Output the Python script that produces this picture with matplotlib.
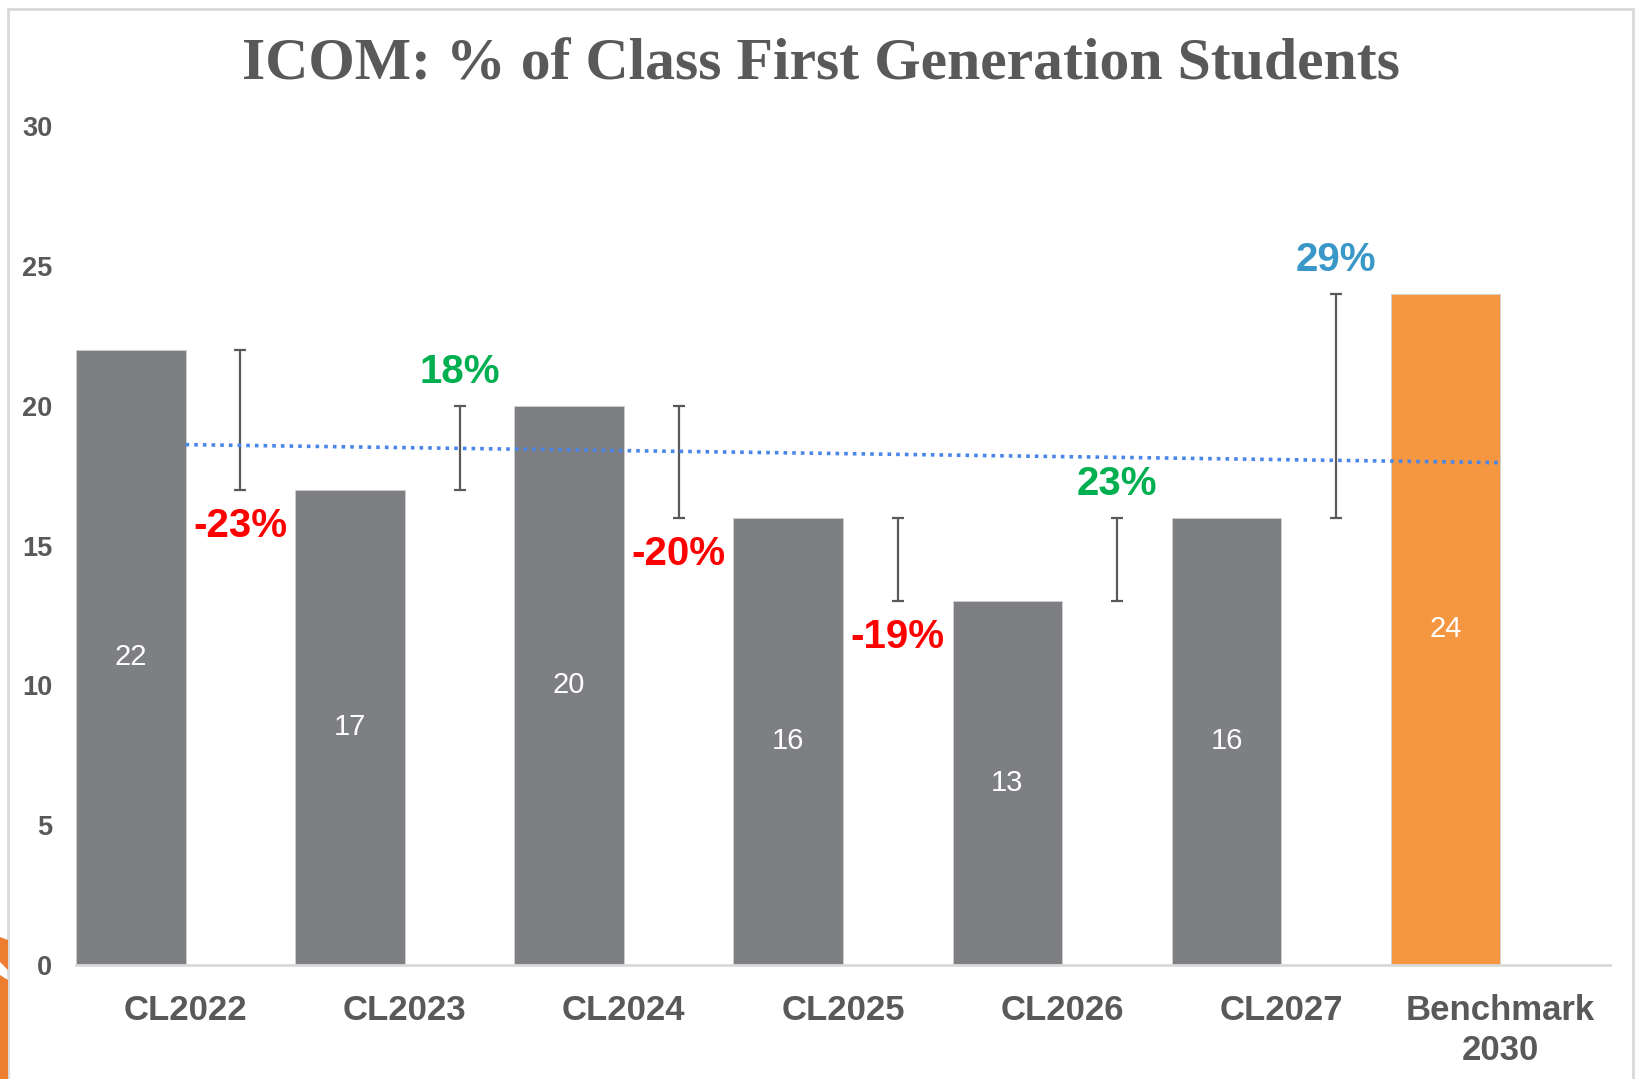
import numpy as np
import matplotlib
matplotlib.use("Agg")
import matplotlib.pyplot as plt
from matplotlib.patches import Rectangle, Polygon

# ---- data ----
categories = ["CL2022", "CL2023", "CL2024", "CL2025", "CL2026", "CL2027", "Benchmark\n2030"]
values = [22, 17, 20, 16, 13, 16, 24]
change_labels = ["-23%", "18%", "-20%", "-19%", "23%", "29%"]
title = "ICOM: % of Class First Generation Students"

GRAY_BAR = "#7E7F83"
ORANGE_BAR = "#F59640"
TEXT_GRAY = "#595959"
RED = "#FF0000"
GREEN = "#00B050"
BLUE = "#3A98C8"
TREND = "#4A86E8"

W, H = 1638, 1079
fig = plt.figure(figsize=(W / 100, H / 100), dpi=100)
fig.patch.set_facecolor("white")

# axes placement in pixel coordinates
ax_l, ax_r, ax_b, ax_t = 76, 1610, 965, 126
ax = fig.add_axes([ax_l / W, 1 - ax_b / H, (ax_r - ax_l) / W, (ax_b - ax_t) / H])

x = np.arange(len(categories))
bar_colors = [GRAY_BAR] * (len(values) - 1) + [ORANGE_BAR]
ax.bar(x - 0.25, values, width=0.5, color=bar_colors, edgecolor="#D0D0D0", linewidth=0.6, zorder=2)

# value labels in bar centres
for xi, v in zip(x, values):
    ax.text(xi - 0.25, v / 2, f"{v}", ha="center", va="center", color="white",
            fontsize=21, family="Liberation Sans", zorder=4)

# connecting error bars between consecutive bars
ex = x[:-1] + 0.25
lo = np.minimum(values[:-1], values[1:])
hi = np.maximum(values[:-1], values[1:])
mid = (lo + hi) / 2
ax.errorbar(ex, mid, yerr=[mid - lo, hi - mid], fmt="none", ecolor=TEXT_GRAY,
            elinewidth=1.6, capsize=4.3, capthick=1.6, zorder=3)

# percentage labels
for i, lab in enumerate(change_labels):
    up = values[i + 1] > values[i]
    if i == len(change_labels) - 1:
        col = BLUE
    else:
        col = GREEN if up else RED
    yref = hi[i] if up else lo[i]
    off = 34 if up else -36
    ax.annotate(lab, xy=(ex[i], yref), xytext=(0, off), textcoords="offset pixels",
                ha="center", va="center", color=col, fontsize=29, fontweight="bold",
                family="Liberation Sans", zorder=5)

# linear trendline
coef = np.polyfit(x, values, 1)
tx = np.array([x[0], x[-1]])
ax.plot(tx, np.polyval(coef, tx), linestyle=(0, (1, 1.4)), color=TREND, linewidth=2.6, zorder=3.5)

ax.set_xlim(-0.5, len(categories) - 0.5)
ax.set_ylim(0, 30)
ax.set_yticks([0, 5, 10, 15, 20, 25, 30])
ax.set_xticks(x)
ax.set_xticklabels(categories, fontsize=25, fontweight="bold", color=TEXT_GRAY,
                   family="Liberation Sans", linespacing=1.25)
for lab in ax.get_yticklabels():
    lab.set_fontsize(19.5)
    lab.set_fontweight("bold")
    lab.set_color(TEXT_GRAY)
    lab.set_family("Liberation Sans")
ax.tick_params(axis="y", length=0, pad=17)
ax.tick_params(axis="x", length=0, pad=21)
for s in ["top", "right", "left"]:
    ax.spines[s].set_visible(False)
ax.spines["bottom"].set_color("#D9D9D9")
ax.spines["bottom"].set_linewidth(2)
ax.set_facecolor("none")

# title
fig.text(821 / W, 1 - 80 / H, title, ha="center", va="baseline", fontsize=43,
         fontweight="bold", color=TEXT_GRAY, family="Liberation Serif")

# chart frame
frame = Rectangle((8 / W, -0.05), (1633 - 8) / W, 1.05 - 9 / H, transform=fig.transFigure,
                  fill=False, edgecolor="#D9D9D9", linewidth=2, zorder=0)
fig.patches.append(frame)

# slide decoration bottom-left
def px(pts):
    return [(a / W, 1 - b / H) for a, b in pts]

fig.patches.append(Polygon(px([(0, 937), (8, 940), (8, 970), (0, 962)]), closed=True,
                           transform=fig.transFigure, facecolor="#ED7D31", edgecolor="none"))
fig.patches.append(Polygon(px([(0, 975), (8, 980), (8, 1080), (0, 1080)]), closed=True,
                           transform=fig.transFigure, facecolor="#ED7D31", edgecolor="none"))

fig.savefig("out.png", dpi=100, facecolor="white")
